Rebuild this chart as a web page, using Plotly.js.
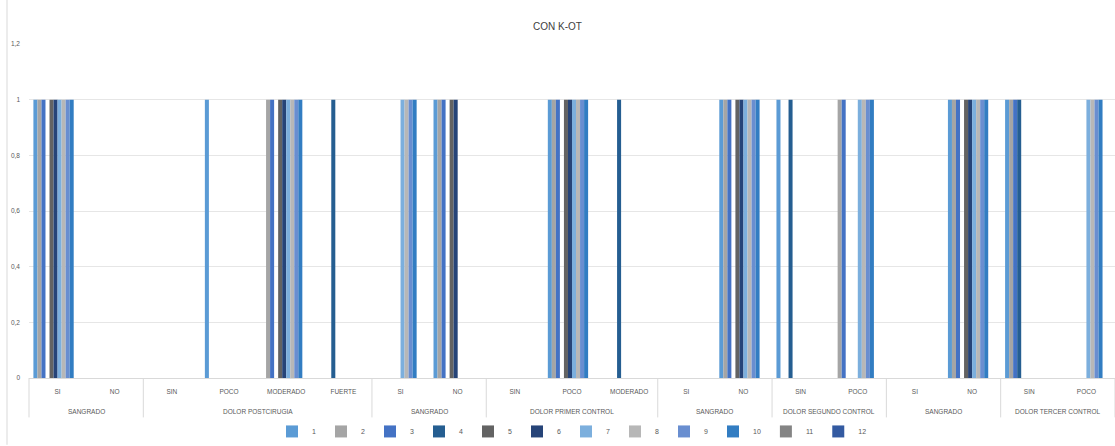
<!DOCTYPE html>
<html>
<head>
<meta charset="utf-8">
<script src="https://cdn.plot.ly/plotly-3.0.1.min.js"></script>
<style>html,body{margin:0;padding:0;background:#fff;}#chart{width:1115px;height:446px;}</style>
</head>
<body>
<div id="chart"></div>
<script>
// Category axis: group label (outer) and answer (inner)
var groupLabels = [
  "SANGRADO", "SANGRADO",
  "DOLOR POSTCIRUGIA", "DOLOR POSTCIRUGIA", "DOLOR POSTCIRUGIA", "DOLOR POSTCIRUGIA",
  "SANGRADO", "SANGRADO",
  "DOLOR PRIMER CONTROL", "DOLOR PRIMER CONTROL", "DOLOR PRIMER CONTROL",
  "SANGRADO", "SANGRADO",
  "DOLOR SEGUNDO CONTROL", "DOLOR SEGUNDO CONTROL",
  "SANGRADO", "SANGRADO",
  "DOLOR TERCER CONTROL", "DOLOR TERCER CONTROL"
];
var subLabels = [
  "SI", "NO",
  "SIN", "POCO", "MODERADO", "FUERTE",
  "SI", "NO",
  "SIN", "POCO", "MODERADO",
  "SI", "NO",
  "SIN", "POCO",
  "SI", "NO",
  "SIN", "POCO"
];
var seriesNames = ["1","2","3","4","5","6","7","8","9","10","11","12"];

// Values per series (one per category, 19 categories)
var s1  = [1,0,0,1,0,0,0,1,0,1,0,0,1,1,0,0,1,1,0];
var s2  = [1,0,0,0,1,0,0,1,0,1,0,0,1,0,1,0,1,1,0];
var s3  = [1,0,0,0,1,0,0,1,0,1,0,0,1,0,1,0,1,1,0];
var s4  = [0,0,0,0,0,1,0,0,0,0,1,0,0,1,0,0,0,1,0];
var s5  = [1,0,0,0,1,0,0,1,0,1,0,0,1,0,0,0,1,0,0];
var s6  = [1,0,0,0,1,0,0,1,0,1,0,0,1,0,0,0,1,0,0];
var s7  = [1,0,0,0,1,0,1,0,0,1,0,0,1,0,1,0,1,0,1];
var s8  = [1,0,0,0,1,0,1,0,0,1,0,0,1,0,1,0,1,0,1];
var s9  = [1,0,0,0,1,0,1,0,0,1,0,0,1,0,1,0,1,0,1];
var s10 = [1,0,0,0,1,0,1,0,0,1,0,0,1,0,1,0,1,0,1];
var s11 = [0,0,0,0,0,0,0,0,0,0,0,0,0,0,0,0,0,0,0];
var s12 = [0,0,0,0,0,0,0,0,0,0,0,0,0,0,0,0,0,0,0];

var yTicks = [0, 0.2, 0.4, 0.6, 0.8, 1, 1.2];

var allSeries = [s1,s2,s3,s4,s5,s6,s7,s8,s9,s10,s11,s12];
var colors = ["#5B9BD5","#A5A5A5","#4472C4","#255E91","#636363","#264478",
              "#7CAFDD","#B7B7B7","#698ED0","#327DC2","#848484","#335AA1"];

// unique category keys (group occurrence + answer)
var nCat = subLabels.length;
var runId = [], runs = [];
groupLabels.forEach(function(g, i){
  if (i === 0 || g !== groupLabels[i-1]) runs.push({name: g, start: i, end: i});
  else runs[runs.length-1].end = i;
  runId.push(runs.length - 1);
});
var catKeys = subLabels.map(function(s, i){ return runId[i] + "|" + s; });

var traces = allSeries.map(function(vals, i){
  return {
    type: "bar",
    name: seriesNames[i],
    x: catKeys,
    y: vals,
    marker: {color: colors[i], line: {width: 0}},
    hoverinfo: "none"
  };
});

var fontFam = "Liberation Sans, Arial, sans-serif";
var labelFont = {family: fontFam, size: 6.5, color: "#595959"};

// group labels and dividers, positioned from category indices
var annotations = runs.map(function(r){
  return {
    xref: "x", yref: "paper",
    x: (r.start + r.end) / 2, y: -0.1,
    text: r.name, showarrow: false,
    xanchor: "center", yanchor: "middle",
    font: labelFont
  };
});
var shapes = [];
var bounds = [-0.5].concat(runs.map(function(r){ return r.end + 0.5; }));
bounds.forEach(function(b){
  var px = (b + 0.5) / nCat;
  shapes.push({
    type: "line", xref: "paper", yref: "paper",
    x0: px, x1: px, y0: 0, y1: -0.118,
    line: {color: "#D9D9D9", width: 1}
  });
});
shapes.push({
  type: "line", xref: "paper", yref: "paper",
  x0: -22/1086, x1: -22/1086, y0: -0.2, y1: 1.14,
  line: {color: "#D9D9D9", width: 1}
});

var layout = {
  width: 1115, height: 446,
  margin: {l: 29, r: 0, t: 44, b: 65},
  paper_bgcolor: "#ffffff", plot_bgcolor: "#ffffff",
  separators: ", ",
  barmode: "group",
  bargap: 0.154,
  bargroupgap: 0,
  font: {family: fontFam, size: 7, color: "#595959"},
  title: {
    text: "CON K-OT",
    font: {family: fontFam, size: 10, color: "#404040"},
    x: 0.5, xanchor: "center",
    y: 0.94, yanchor: "middle", yref: "container"
  },
  xaxis: {
    type: "category",
    tickvals: catKeys,
    ticktext: subLabels,
    range: [-0.5, nCat - 0.5],
    showline: true, linecolor: "#D9D9D9", linewidth: 1,
    showgrid: false,
    ticks: "",
    ticklabelstandoff: 7,
    tickfont: labelFont,
    automargin: false
  },
  yaxis: {
    range: [0, 1.2],
    tickvals: yTicks,
    showgrid: true, gridcolor: "#E6E6E6", gridwidth: 1,
    zeroline: false,
    showline: false,
    ticks: "",
    ticklabelstandoff: 8,
    tickfont: labelFont,
    automargin: false
  },
  annotations: annotations,
  shapes: shapes,
  showlegend: true,
  legend: {
    orientation: "h",
    x: 0.5, xanchor: "center",
    y: -0.16, yanchor: "middle",
    font: {family: fontFam, size: 7, color: "#595959"},
    itemwidth: 30,
    tracegroupgap: 0,
    bgcolor: "rgba(0,0,0,0)"
  }
};

Plotly.newPlot("chart", traces, layout, {staticPlot: true, displayModeBar: false});
</script>
</body>
</html>
